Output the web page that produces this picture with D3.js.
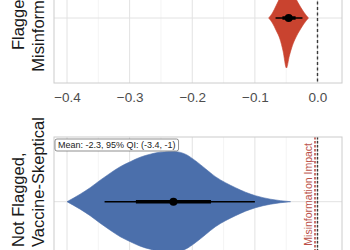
<!DOCTYPE html>
<html>
<head>
<meta charset="utf-8">
<script src="https://cdn.jsdelivr.net/npm/d3@7"></script>
<style>
  body { margin: 0; background: #fff; }
  svg { display: block; }
  text { font-family: "Liberation Sans", Arial, Helvetica, sans-serif; }
</style>
</head>
<body>
<script>
// values
var panelLabels = [["Flagged,", "Misinformation"], ["Not Flagged,", "Vaccine-Skeptical"]];
var topTicks = [-0.4, -0.3, -0.2, -0.1, 0.0];
var topMinor = [-0.35, -0.25, -0.15, -0.05];
var bottomTicks = [-4, -3, -2, -1, 0];
var bottomMinor = [-3.5, -2.5, -1.5, -0.5];

var flagX       = [-0.078, -0.072, -0.066, -0.060, -0.055, -0.0496, -0.045, -0.040, -0.035, -0.028, -0.022, -0.0144];
var flagDensity = [0, 0.1, 0.25, 0.42, 0.66, 1.0, 0.76, 0.55, 0.4, 0.24, 0.12, 0];
var flagMean = -0.046, flagQi95 = [-0.067, -0.024], flagQi66 = [-0.056, -0.035];

var vaxX       = [-4.0, -3.79, -3.63, -3.47, -3.31, -3.15, -2.99, -2.83, -2.67, -2.51, -2.27,
                  -2.11, -1.95, -1.79, -1.63, -1.47, -1.31, -1.15, -0.99, -0.75, -0.43];
var vaxDensity = [0, 0.15, 0.28, 0.43, 0.57, 0.7, 0.8, 0.89, 0.95, 0.99, 1.0,
                  0.95, 0.82, 0.66, 0.5, 0.38, 0.28, 0.19, 0.12, 0.05, 0];
var vaxMean = -2.3, vaxQi95 = [-3.4, -1], vaxQi66 = [-2.9, -1.7];
var misinfoImpact = -0.04;

var W = 350, H = 250;
var colors = {flag: "#c9432f", vax: "#4b6fab", impact: "#bb5148"};

var svg = d3.select("body").append("svg")
    .attr("width", W).attr("height", H)
    .style("background", "#fff");

var panelX = [54, 342];
var panels = [
  {top: -70, bottom: 83, cy: 18, ticks: topTicks, minor: topMinor, domain: [-0.4, 0],
   xs: flagX, dens: flagDensity, mean: flagMean, qi95: flagQi95, qi66: flagQi66,
   color: colors.flag, labels: panelLabels[0], showAxis: true},
  {top: 137, bottom: 330, cy: 201.7, ticks: bottomTicks, minor: bottomMinor, domain: [-4, 0],
   xs: vaxX, dens: vaxDensity, mean: vaxMean, qi95: vaxQi95, qi66: vaxQi66,
   color: colors.vax, labels: panelLabels[1], showAxis: false}
];

var w = d3.scaleLinear().domain([0, 1]).range([0, 50]);
var minus = function(v) { return String(v).replace("-", "\u2212"); };

panels.forEach(function(p, i) {
  var x = d3.scaleLinear().domain(p.domain).range([67, 317.5]);
  var g = svg.append("g");

  // grid
  g.selectAll(".minor").data(p.minor).enter().append("line")
      .attr("x1", x).attr("x2", x).attr("y1", p.top).attr("y2", p.bottom)
      .attr("stroke", "#ececec").attr("stroke-width", 0.6);
  g.selectAll(".major").data(p.ticks).enter().append("line")
      .attr("x1", x).attr("x2", x).attr("y1", p.top).attr("y2", p.bottom)
      .attr("stroke", "#e2e2e2").attr("stroke-width", 1);
  g.append("line")
      .attr("x1", panelX[0]).attr("x2", panelX[1]).attr("y1", p.cy).attr("y2", p.cy)
      .attr("stroke", "#e2e2e2").attr("stroke-width", 1);

  // violin
  var pts = p.xs.map(function(v, j) { return [v, p.dens[j]]; });
  var area = d3.area()
      .x(function(d) { return x(d[0]); })
      .y0(function(d) { return p.cy - w(d[1]); })
      .y1(function(d) { return p.cy + w(d[1]); })
      .curve(d3.curveMonotoneX);
  g.append("path").datum(pts)
      .attr("d", area)
      .attr("fill", p.color)
      .attr("stroke", p.color).attr("stroke-width", 0.6);

  // reference lines
  if (i === 1) {
    g.append("line")
        .attr("x1", x(misinfoImpact)).attr("x2", x(misinfoImpact))
        .attr("y1", p.top).attr("y2", p.bottom)
        .attr("stroke", colors.impact).attr("stroke-width", 1.6)
        .attr("stroke-dasharray", "2.5,1.5");
    g.append("text")
        .attr("transform", "translate(" + (x(misinfoImpact) - 2.5) + "," + 143 + ") rotate(-90)")
        .attr("text-anchor", "end")
        .attr("font-size", 10.5)
        .attr("fill", colors.impact)
        .text("Misinformation Impact");
  }
  g.append("line")
      .attr("x1", x(0)).attr("x2", x(0))
      .attr("y1", p.top).attr("y2", p.bottom)
      .attr("stroke", "#3a3a3a").attr("stroke-width", 1.4)
      .attr("stroke-dasharray", i === 0 ? "3,2.5" : "2.5,1.5");

  // point + intervals
  g.append("line")
      .attr("x1", x(p.qi95[0])).attr("x2", x(p.qi95[1]))
      .attr("y1", p.cy).attr("y2", p.cy)
      .attr("stroke", "#000").attr("stroke-width", 1.5);
  g.append("line")
      .attr("x1", x(p.qi66[0])).attr("x2", x(p.qi66[1]))
      .attr("y1", p.cy).attr("y2", p.cy)
      .attr("stroke", "#000").attr("stroke-width", 3.5);
  g.append("circle")
      .attr("cx", x(p.mean)).attr("cy", p.cy).attr("r", 4)
      .attr("fill", "#000");

  // panel border
  g.append("rect")
      .attr("x", panelX[0]).attr("y", p.top)
      .attr("width", panelX[1] - panelX[0]).attr("height", p.bottom - p.top)
      .attr("fill", "none").attr("stroke", "#cccccc").attr("stroke-width", 1);

  // x axis labels
  if (p.showAxis) {
    var ax = svg.append("g")
        .attr("transform", "translate(0," + p.bottom + ")")
        .call(d3.axisBottom(x).tickValues(p.ticks).tickSize(0).tickPadding(9.5)
              .tickFormat(function(d) { return minus(d3.format(".1f")(d)); }));
    ax.select(".domain").remove();
    ax.selectAll("text")
        .attr("font-size", 13.5)
        .attr("font-family", "\"Liberation Sans\", Arial, sans-serif")
        .attr("fill", "#4d4d4d");
  }

  // category label (two lines, rotated)
  var lab = svg.append("g");
  var baselines = [24, 43.5];
  p.labels.forEach(function(t, k) {
    var tx = lab.append("text")
        .attr("font-size", 16.5)
        .attr("fill", "#1a1a1a")
        .text(t);
    if (i === 0) {
      tx.attr("text-anchor", "middle")
        .attr("transform", "translate(" + baselines[k] + "," + p.cy + ") rotate(-90)");
    } else {
      tx.attr("text-anchor", "start")
        .attr("transform", "translate(" + baselines[k] + "," + 247 + ") rotate(-90)");
    }
  });

  // summary label box
  if (i === 1) {
    var lb = svg.append("g").attr("transform", "translate(55,139)");
    var rect = lb.append("rect")
        .attr("rx", 2).attr("ry", 2)
        .attr("fill", "#fff").attr("stroke", "#444").attr("stroke-width", 0.6);
    var t = lb.append("text")
        .attr("x", 3).attr("y", 9.3)
        .attr("font-size", 9)
        .attr("fill", "#222")
        .text("Mean: " + p.mean + ", 95% QI: (" + p.qi95[0] + ", " + p.qi95[1] + ")");
    var tw = t.node().getComputedTextLength();
    rect.attr("width", tw + 6).attr("height", 12);
  }
});
</script>
</body>
</html>
